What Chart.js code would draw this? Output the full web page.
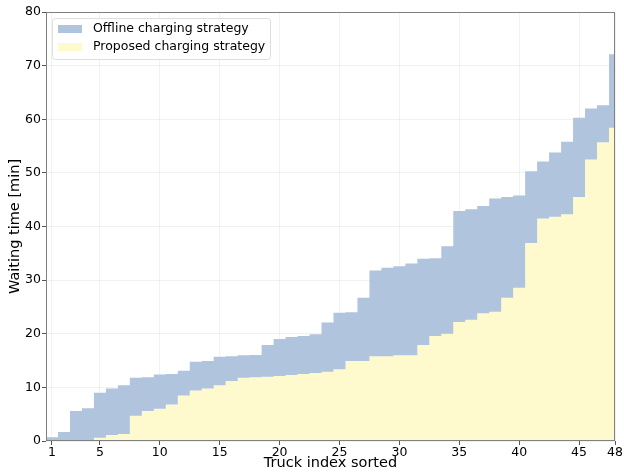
<!DOCTYPE html>
<html>
<head>
<meta charset="utf-8">
<script src="https://cdn.jsdelivr.net/npm/chart.js@4.4.1/dist/chart.umd.min.js"></script>
<style>
  html, body { margin: 0; padding: 0; background: #fff; }
  #wrap { width: 624px; height: 472px; }
</style>
</head>
<body>
<div id="wrap"><canvas id="waitChart"></canvas></div>
<script>
const truckIndex = [1, 2, 3, 4, 5, 6, 7, 8, 9, 10, 11, 12, 13, 14, 15, 16, 17, 18, 19, 20, 21, 22, 23, 24,
                    25, 26, 27, 28, 29, 30, 31, 32, 33, 34, 35, 36, 37, 38, 39, 40, 41, 42, 43, 44, 45, 46, 47, 48];

// waiting time [min], sorted per truck
const offlineWait = [0.7, 1.7, 5.6, 6.1, 9.0, 9.8, 10.4, 11.8, 11.9, 12.4, 12.5, 13.1, 14.8, 14.9, 15.7, 15.8,
                     16.0, 16.05, 17.9, 19.0, 19.4, 19.6, 19.9, 22.1, 23.9, 24.0, 26.7, 31.8, 32.3, 32.6, 33.1, 34.0,
                     34.1, 36.3, 42.9, 43.2, 43.8, 45.2, 45.5, 45.8, 50.3, 52.1, 53.8, 55.8, 60.3, 62.0, 62.6, 72.1];
const proposedWait = [0, 0, 0, 0, 0.6, 1.1, 1.3, 4.7, 5.6, 6.0, 6.8, 8.5, 9.4, 9.8, 10.4, 11.2,
                      11.8, 11.9, 12.0, 12.1, 12.3, 12.5, 12.7, 12.9, 13.4, 14.9, 14.9, 15.8, 15.8, 16.0, 16.0, 17.9,
                      19.6, 20.0, 22.2, 22.6, 23.8, 24.1, 26.7, 28.6, 36.9, 41.5, 41.8, 42.3, 45.5, 52.5, 55.7, 58.4];

const xTicks = [1, 5, 10, 15, 20, 25, 30, 35, 40, 45, 48];
const yTicks = [0, 10, 20, 30, 40, 50, 60, 70, 80];

// each truck covers [i - 0.5, i + 0.5]; repeat the last value to close the final step
function stepPoints(values) {
    const pts = truckIndex.map((t, i) => ({ x: t - 0.5, y: values[i] }));
    pts.push({ x: truckIndex[truckIndex.length - 1] + 0.5, y: values[values.length - 1] });
    return pts;
}

Chart.defaults.font.family = "'DejaVu Sans', sans-serif";
Chart.defaults.color = '#000';

// matplotlib style frame on all four sides
const frame = {
    id: 'frame',
    afterDatasetsDraw(chart) {
        const { ctx, chartArea } = chart;
        ctx.save();
        ctx.strokeStyle = '#808080';
        ctx.lineWidth = 1;
        ctx.strokeRect(Math.round(chartArea.left) + 0.5, Math.round(chartArea.top) + 0.5,
                       Math.round(chartArea.right - chartArea.left) - 1, Math.round(chartArea.bottom - chartArea.top) - 1);
        ctx.restore();
    }
};

// legend drawn inside the plot, upper left
const innerLegend = {
    id: 'innerLegend',
    afterDraw(chart) {
        const { ctx, chartArea } = chart;
        const x = chartArea.left + 6;
        const y = chartArea.top + 6;
        ctx.save();
        ctx.beginPath();
        ctx.roundRect(x + 0.5, y + 0.5, 218, 41, 3);
        ctx.fillStyle = 'rgba(255,255,255,0.8)';
        ctx.fill();
        ctx.strokeStyle = '#dedede';
        ctx.lineWidth = 1;
        ctx.stroke();
        ctx.font = "12.5px 'DejaVu Sans'";
        ctx.textBaseline = 'middle';
        chart.data.datasets.forEach((ds, i) => {
            const rowY = y + 11 + i * 18;
            ctx.fillStyle = ds.backgroundColor;
            ctx.fillRect(x + 6, rowY - 4, 24, 8);
            ctx.fillStyle = '#000';
            ctx.fillText(ds.label, x + 41, rowY);
        });
        ctx.restore();
    }
};

const ctx = document.getElementById('waitChart').getContext('2d');
const waitChart = new Chart(ctx, {

    type: 'line',

    data: {
        datasets: [{
            label: 'Offline charging strategy',
            data: stepPoints(offlineWait),
            stepped: true,
            fill: 1,
            backgroundColor: '#b0c4de',
            borderColor: 'rgba(0,0,0,0)',
            borderWidth: 0,
            pointRadius: 0
        }, {
            label: 'Proposed charging strategy',
            data: stepPoints(proposedWait),
            stepped: true,
            fill: 'origin',
            backgroundColor: '#fffacd',
            borderColor: 'rgba(0,0,0,0)',
            borderWidth: 0,
            pointRadius: 0
        }]
    },

    options: {
        responsive: true,
        maintainAspectRatio: false,
        animation: false,
        events: [],
        layout: { padding: { top: 12, right: 9, left: 0, bottom: 0 } },
        plugins: {
            legend: { display: false },
            tooltip: { enabled: false }
        },
        scales: {
            x: {
                type: 'linear',
                min: 0.5,
                max: 48,
                afterBuildTicks: s => { s.ticks = xTicks.map(v => ({ value: v })); },
                afterFit: s => { s.height = 31; },
                ticks: { autoSkip: false, maxRotation: 0, padding: 0, font: { size: 12.5 } },
                grid: { color: 'rgba(0,0,0,0.05)', tickColor: '#555', tickLength: 4 },
                border: { display: false },
                title: { display: true, text: 'Truck index sorted', font: { size: 14.5 }, padding: 0 }
            },
            y: {
                min: 0,
                max: 80,
                afterBuildTicks: s => { s.ticks = yTicks.map(v => ({ value: v })); },
                afterFit: s => { s.width = 46; },
                ticks: { padding: 1, font: { size: 12.5 } },
                grid: { color: 'rgba(0,0,0,0.05)', tickColor: '#555', tickLength: 4 },
                border: { display: false },
                title: { display: true, text: 'Waiting time [min]', font: { size: 14.5 }, padding: { top: 7, bottom: 0 } }
            }
        }
    },

    plugins: [frame, innerLegend]
});
</script>
</body>
</html>
